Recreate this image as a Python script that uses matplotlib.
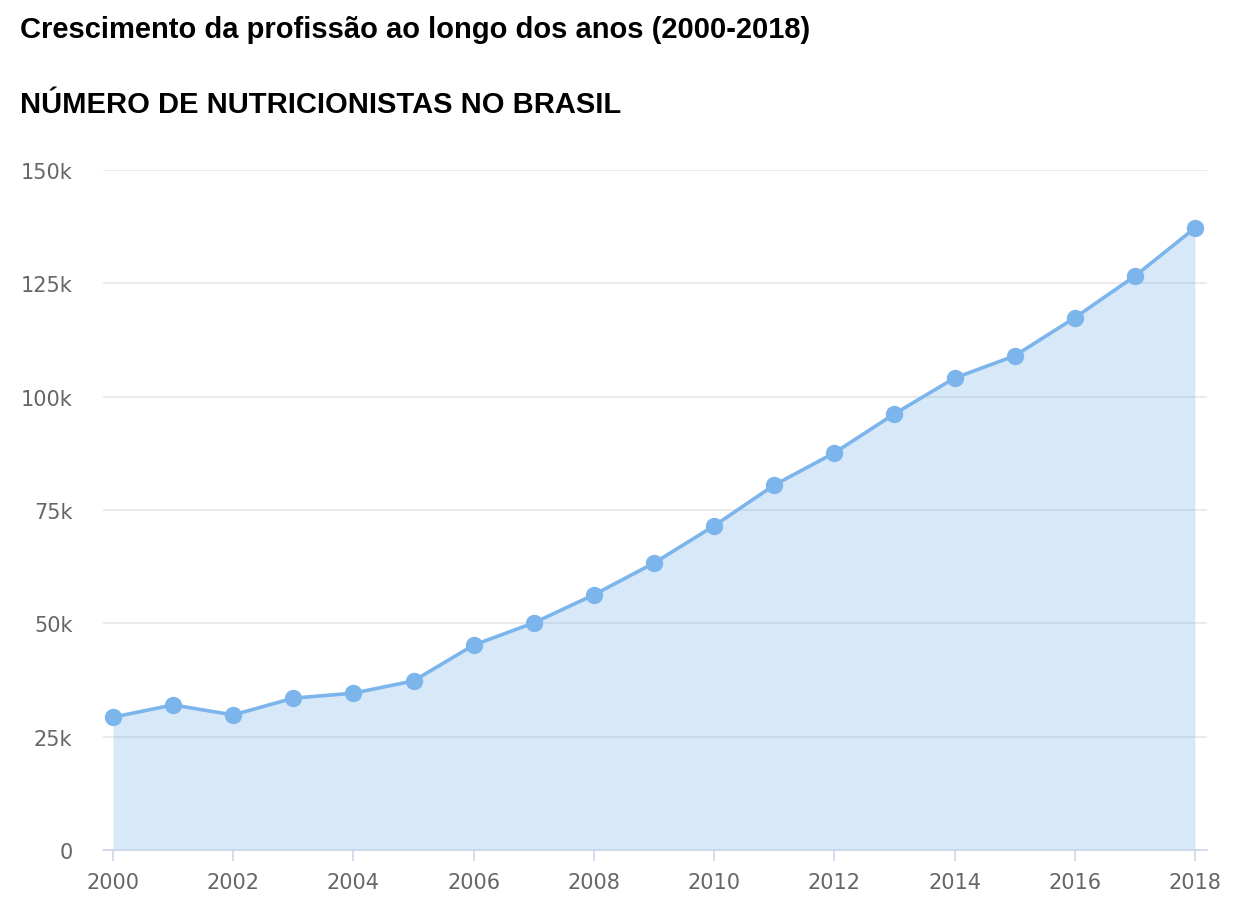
import numpy as np
import matplotlib.pyplot as plt

years = list(range(2000, 2019))
nutricionistas = [29300, 32000, 29800, 33500, 34600, 37300, 45200, 50100, 56300,
                  63300, 71500, 80500, 87600, 96200, 104100, 109000, 117400, 126600, 137200]
y_ticks = [0, 25000, 50000, 75000, 100000, 125000, 150000]
y_labels = ['0', '25k', '50k', '75k', '100k', '125k', '150k']
x_ticks = list(range(2000, 2019, 2))

line_color = '#7cb5ec'

fig = plt.figure(figsize=(12.48, 9.12), dpi=100)
ax = fig.add_axes([103/1248, 1 - 851/912, (1207 - 103)/1248, (851 - 171)/912])

ax.fill_between(years, nutricionistas, 0, color=line_color, alpha=0.3, linewidth=0, zorder=2)
ax.plot(years, nutricionistas, color=line_color, linewidth=2.6, marker='o',
        markersize=11.5, zorder=3, clip_on=False)

ax.set_xlim(2000 - 0.166, 2018 + 0.2)
ax.set_ylim(0, 150000)
ax.set_yticks(y_ticks)
ax.set_yticklabels(y_labels)
ax.set_xticks(x_ticks)
ax.set_xticklabels([str(x) for x in x_ticks])

ax.grid(axis='y', color='#e6e6e6', linewidth=1.2, zorder=1)
for side in ['top', 'right', 'left']:
    ax.spines[side].set_visible(False)
ax.spines['bottom'].set_color('#ccd6eb')
ax.spines['bottom'].set_linewidth(1.2)
ax.tick_params(axis='y', length=0, pad=22, labelsize=15, labelcolor='#666666')
ax.tick_params(axis='x', length=8, width=1.2, color='#ccd6eb', pad=8,
               labelsize=15, labelcolor='#666666')

fig.text(20/1248, 1 - 30/912, 'Crescimento da profissão ao longo dos anos (2000-2018)',
         fontsize=21, fontweight='bold', family='Liberation Sans', va='center', ha='left')
fig.text(20/1248, 1 - 105/912, 'NÚMERO DE NUTRICIONISTAS NO BRASIL',
         fontsize=21, fontweight='bold', family='Liberation Sans', va='center', ha='left')

fig.savefig('out.png', dpi=100, facecolor='white')
